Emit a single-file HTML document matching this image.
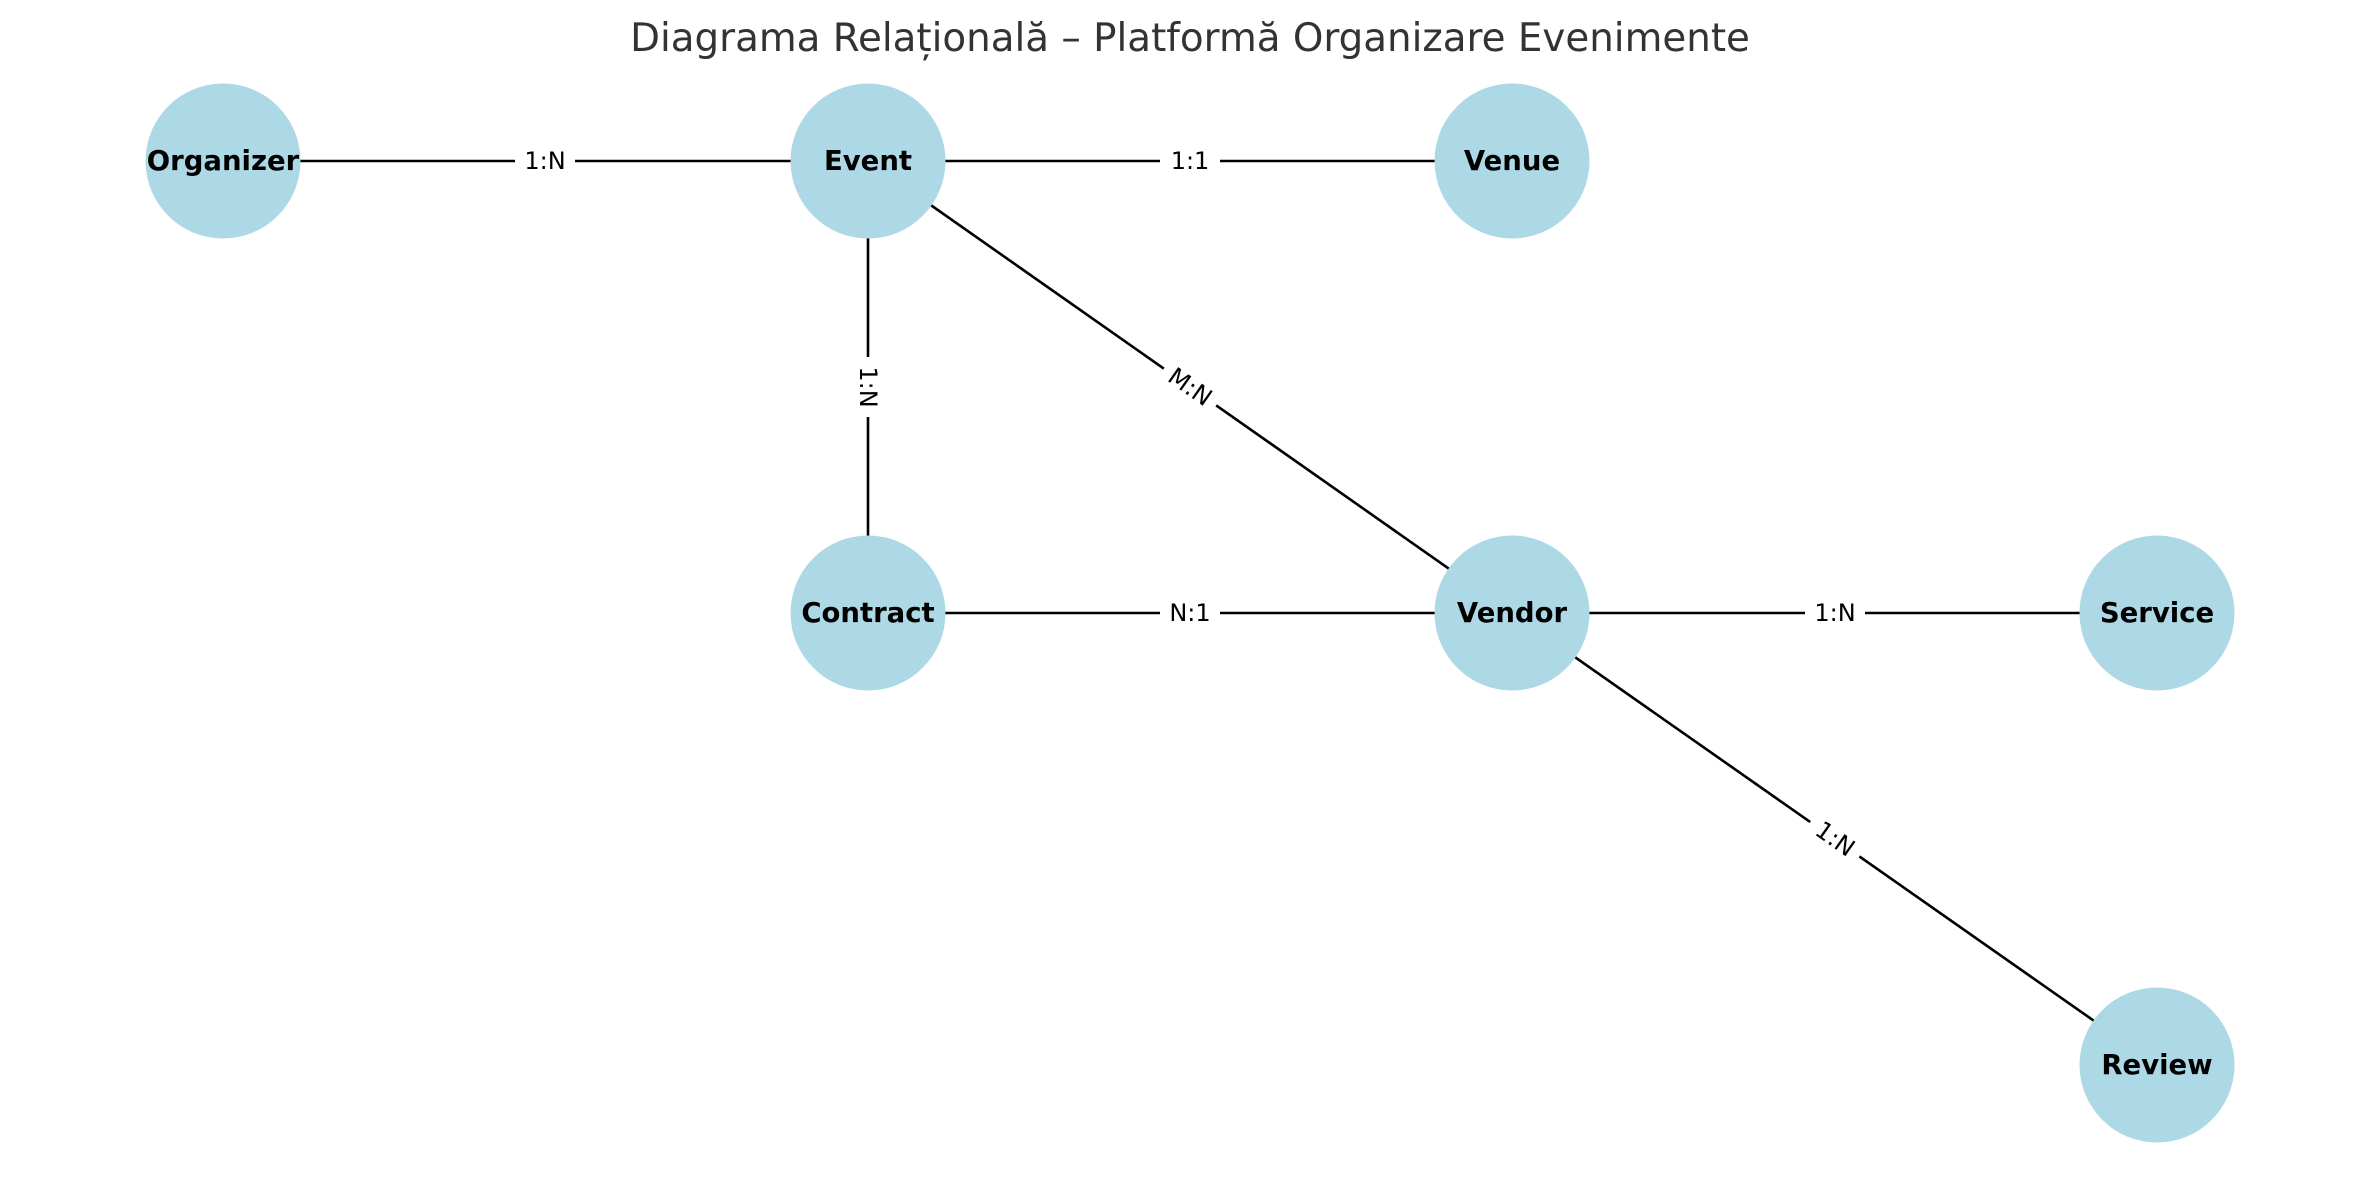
<!DOCTYPE html>
<html><head><meta charset="utf-8"><style>html,body{margin:0;padding:0;background:#fff}svg{display:block}</style></head>
<body>
<svg width="2379" height="1180" viewBox="0 0 2379 1180" xmlns="http://www.w3.org/2000/svg" font-family="DejaVu Sans, Liberation Sans, sans-serif">
<text x="1190" y="51" text-anchor="middle" font-size="38.8" fill="#333">Diagrama Relațională – Platformă Organizare Evenimente</text>
<g stroke="#000" stroke-width="2.6">
<line x1="223" y1="161" x2="868" y2="161"/>
<line x1="868" y1="161" x2="1512" y2="161"/>
<line x1="868" y1="161" x2="868" y2="613"/>
<line x1="868" y1="161" x2="1512" y2="613"/>
<line x1="868" y1="613" x2="1512" y2="613"/>
<line x1="1512" y1="613" x2="2157" y2="613"/>
<line x1="1512" y1="613" x2="2157" y2="1065"/>
</g>
<g font-size="24" fill="#000" text-anchor="middle" dominant-baseline="central">
<g transform="translate(545,161)"><rect x="-30" y="-15" width="60" height="30" fill="#fff"/><text>1:N</text></g>
<g transform="translate(1190,161)"><rect x="-30" y="-15" width="60" height="30" fill="#fff"/><text>1:1</text></g>
<g transform="translate(868,387) rotate(90)"><rect x="-30" y="-15" width="60" height="30" fill="#fff"/><text>1:N</text></g>
<g transform="translate(1190,387) rotate(35.1)"><rect x="-32" y="-15" width="64" height="30" fill="#fff"/><text>M:N</text></g>
<g transform="translate(1190,613)"><rect x="-30" y="-15" width="60" height="30" fill="#fff"/><text>N:1</text></g>
<g transform="translate(1835,613)"><rect x="-30" y="-15" width="60" height="30" fill="#fff"/><text>1:N</text></g>
<g transform="translate(1835,839) rotate(35.1)"><rect x="-30" y="-15" width="60" height="30" fill="#fff"/><text>1:N</text></g>
</g>
<g fill="#add8e6">
<circle cx="223" cy="161" r="77.5"/>
<circle cx="868" cy="161" r="77.5"/>
<circle cx="1512" cy="161" r="77.5"/>
<circle cx="868" cy="613" r="77.5"/>
<circle cx="1512" cy="613" r="77.5"/>
<circle cx="2157" cy="613" r="77.5"/>
<circle cx="2157" cy="1065" r="77.5"/>
</g>
<g font-size="27.5" font-weight="bold" fill="#000" text-anchor="middle" dominant-baseline="central">
<text x="223" y="161">Organizer</text>
<text x="868" y="161">Event</text>
<text x="1512" y="161">Venue</text>
<text x="868" y="613">Contract</text>
<text x="1512" y="613">Vendor</text>
<text x="2157" y="613">Service</text>
<text x="2157" y="1065">Review</text>
</g>
</svg>
</body></html>
